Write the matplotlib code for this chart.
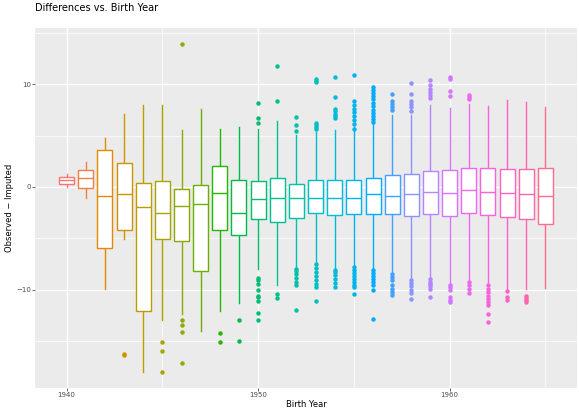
import numpy as np
import matplotlib
matplotlib.use('Agg')
import matplotlib.pyplot as plt

# box statistics, one entry per birth year
years = list(range(1940, 1966))
q1 = [0.30, -0.10, -5.92, -4.16, -12.14, -5.04, -5.30, -8.23, -4.16, -4.69, -3.09, -3.42, -2.99,
      -2.54, -2.76, -2.67, -2.67, -2.67, -2.80, -2.63, -2.80, -2.57, -2.70, -2.93, -3.12, -3.64]
med = [0.65, 0.88, -0.84, -0.65, -1.95, -2.50, -1.82, -1.63, -0.62, -2.50, -1.13, -1.04, -1.07,
       -1.04, -1.07, -1.04, -0.65, -0.88, -0.71, -0.45, -0.55, -0.29, -0.45, -0.55, -0.65, -0.91]
q3 = [1.02, 1.66, 3.65, 2.38, 0.39, 0.56, -0.17, 0.23, 2.09, 0.65, 0.59, 0.88, 0.33,
      0.72, 0.68, 0.68, 0.92, 1.17, 1.31, 1.60, 1.66, 1.89, 1.89, 1.79, 1.79, 1.86]
whislo = [-0.03, -1.07, -9.99, -5.11, -18.07, -13.0, -12.37, -14.06, -12.1, -11.3, -8.04, -9.6, -7.8,
          -7.39, -8.07, -7.65, -8.07, -8.4, -9.0, -8.95, -9.44, -9.28, -9.5, -9.93, -9.93, -9.83]
whishi = [1.31, 2.41, 4.82, 7.10, 7.98, 7.98, 5.54, 7.56, 5.70, 5.86, 5.70, 6.42, 5.02,
          5.37, 5.60, 5.86, 6.19, 7.00, 7.00, 7.98, 7.72, 8.08, 7.88, 8.47, 8.30, 7.81]
outliers = [
    [], [], [], [-16.3, -16.4], [], [-15.07, -15.98, -18.07],
    [13.9, -13.0, -13.5, -14.1, -17.2], [], [-14.2, -15.07], [-13.0, -14.97],
    [8.14, 6.71, 6.25, -8.85, -9.04, -9.5, -10.0, -10.6, -10.74, -11.07, -12.3, -12.95],
    [11.79, 8.4, -10.4, -10.84],
    [6.84, 6.05, 5.44, -8.0, -8.2, -8.45, -8.85, -9.25, -9.6, -12.04],
    [10.49, 10.35, 10.2, 6.2, 6.0, 5.85, 5.7, -7.5, -7.9, -8.3, -8.7, -9.1, -9.5, -9.77, -11.07],
    [10.68, 8.73, 7.65, 7.4, 7.1, 6.9, 6.68, -8.1, -8.3, -8.6, -9.0, -9.4, -9.8],
    [10.94, 8.4, 8.0, 7.6, 7.3, 6.9, 6.5, 6.1, 5.7, -7.8, -8.1, -8.4, -8.7, -9.0, -9.3, -9.6, -9.8, -10.4],
    [9.77, 9.5, 9.2, 8.9, 8.6, 8.2, 7.9, 7.5, 7.2, 6.9, 6.6, 6.3, -8.1, -8.4, -8.7, -9.0, -9.3, -9.6, -10.0, -12.86],
    [9.02, 8.37, 8.1, 7.8, 7.49, -8.5, -8.8, -9.1, -9.6, -9.9, -10.2, -10.58],
    [10.1, 9.02, 8.4, 8.1, 7.8, 7.4, -9.1, -9.4, -9.7, -10.0, -10.3, -10.9],
    [10.4, 9.9, 9.6, 9.3, 9.0, 8.7, -9.0, -9.3, -9.5, -9.7, -9.9, -10.74],
    [10.74, 10.49, 9.38, 8.86, -9.6, -9.8, -10.0, -10.74, -11.0, -11.2],
    [9.0, 8.8, 8.6, -9.3, -9.6, -9.9, -10.3],
    [-9.6, -9.9, -10.2, -10.6, -10.9, -11.2, -11.5, -12.37, -13.2],
    [-10.1, -10.74, -11.0],
    [-10.6, -10.8, -11.0, -11.2],
    [],
]


# ggplot-like hue palette (HCL, l=65, c=100)
def hue_pal(n, l=65, c=100):
    hues = np.linspace(15, 375, n + 1)[:-1]
    cols = []
    Xn, Yn, Zn = 95.047, 100.0, 108.883
    un = 4 * Xn / (Xn + 15 * Yn + 3 * Zn)
    vn = 9 * Yn / (Xn + 15 * Yn + 3 * Zn)
    M = np.array([[3.2404542, -1.5371385, -0.4985314],
                  [-0.9692660, 1.8760108, 0.0415560],
                  [0.0556434, -0.2040259, 1.0572252]])
    for h in hues:
        u = c * np.cos(np.radians(h))
        v = c * np.sin(np.radians(h))
        Y = Yn * ((l + 16) / 116) ** 3
        up = u / (13 * l) + un
        vp = v / (13 * l) + vn
        X = Y * 9 * up / (4 * vp)
        Z = Y * (12 - 3 * up - 20 * vp) / (4 * vp)
        rgb = M @ (np.array([X, Y, Z]) / 100)
        rgb = np.where(rgb <= 0.0031308, 12.92 * rgb, 1.055 * np.clip(rgb, 0, None) ** (1 / 2.4) - 0.055)
        cols.append(tuple(np.clip(rgb, 0, 1)))
    return cols


colors = hue_pal(len(years))

stats = []
for i, y in enumerate(years):
    stats.append(dict(med=med[i], q1=q1[i], q3=q3[i], whislo=whislo[i],
                      whishi=whishi[i], fliers=outliers[i]))

fig = plt.figure(figsize=(5.79, 4.09), dpi=100)
ax = fig.add_axes([35 / 579, 1 - 388 / 409, 542 / 579, 360 / 409])
ax.set_facecolor('#EBEBEB')

# grid
for x in [1945, 1955, 1965]:
    ax.axvline(x, color='white', lw=0.5, zorder=0)
for y in [-15, -5, 5, 15]:
    ax.axhline(y, color='white', lw=0.5, zorder=0)
for x in [1940, 1950, 1960]:
    ax.axvline(x, color='white', lw=1.0, zorder=0)
for y in [-10, 0, 10]:
    ax.axhline(y, color='white', lw=1.0, zorder=0)

bp = ax.bxp(stats, positions=years, widths=0.78, patch_artist=True, showcaps=False,
            manage_ticks=False)
for i, col in enumerate(colors):
    bp['boxes'][i].set(facecolor='white', edgecolor=col, linewidth=1.0, zorder=3)
    bp['medians'][i].set(color=col, linewidth=1.0, zorder=4)
    for w in bp['whiskers'][2 * i:2 * i + 2]:
        w.set(color=col, linewidth=1.0, zorder=2)
    bp['fliers'][i].set(marker='o', markerfacecolor=col, markeredgecolor=col,
                        markersize=2.2, linestyle='none', zorder=5)

ax.set_xlim(1938.35, 1966.65)
ax.set_ylim(-19.6, 15.5)
ax.set_xticks([1940, 1950, 1960])
ax.set_yticks([-10, 0, 10])
ax.set_yticklabels(['\u221210', '0', '10'])
ax.tick_params(axis='both', length=2, width=0.5, color='#333333', labelsize=5,
               labelcolor='#4D4D4D', pad=1)
for s in ax.spines.values():
    s.set_visible(False)

ax.set_xlabel('Birth Year', fontsize=6, labelpad=1)
ax.set_ylabel('Observed \u2212 Imputed', fontsize=6, labelpad=1.5)
ax.set_title('Differences vs. Birth Year', fontsize=7, loc='left', pad=12)

fig.savefig('out.png', dpi=100)
